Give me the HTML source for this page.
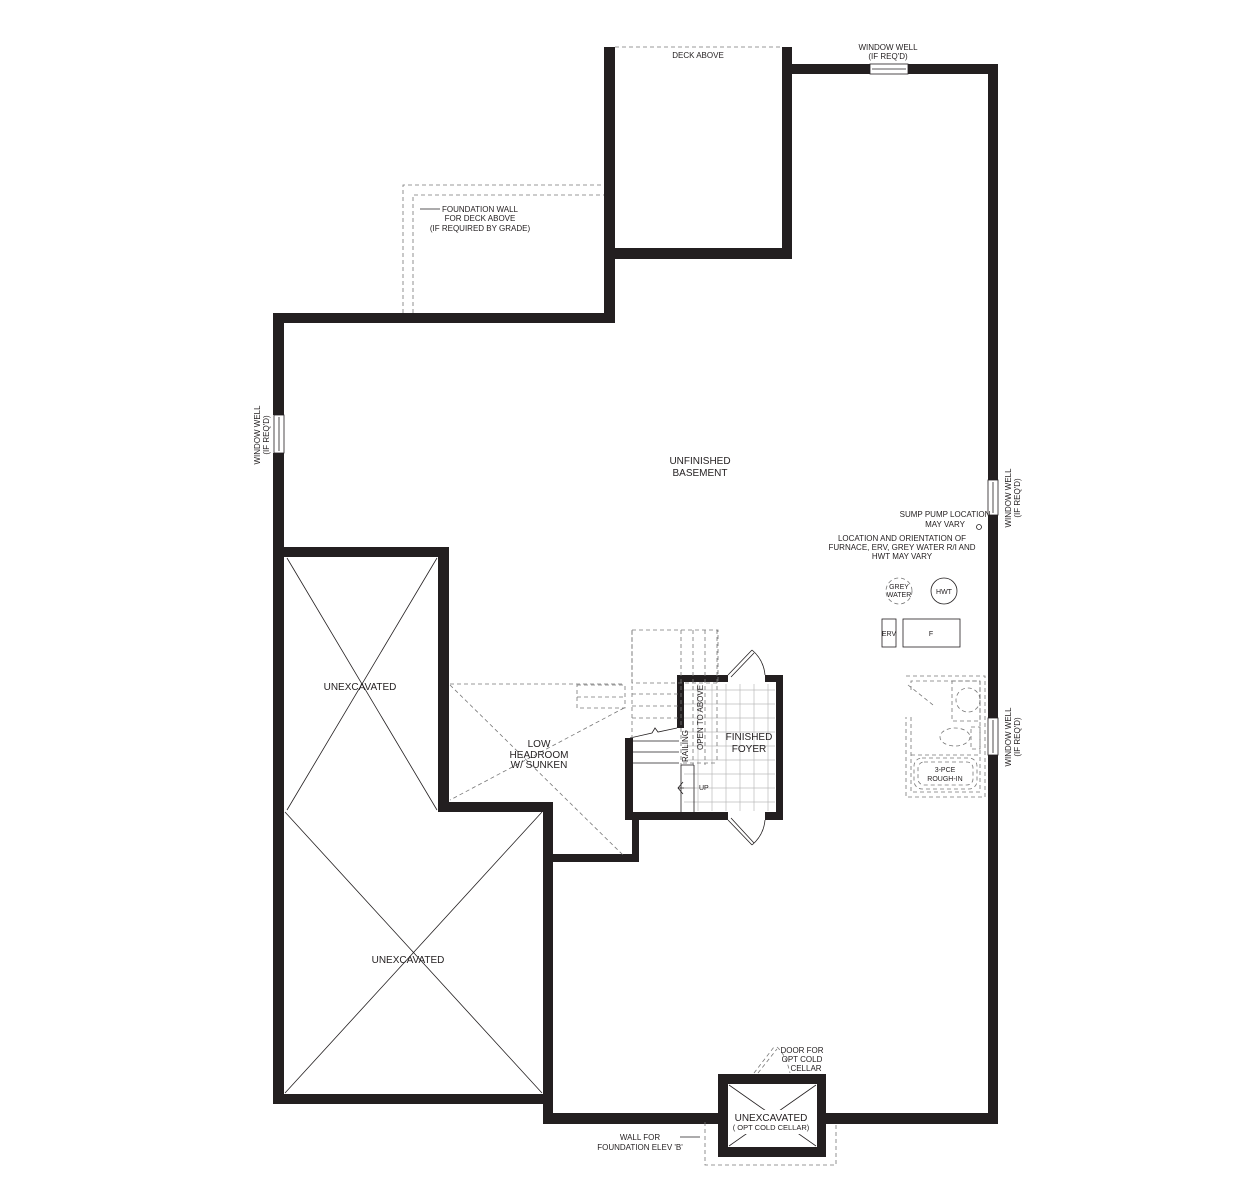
<!DOCTYPE html>
<html><head><meta charset="utf-8"><style>
html,body{margin:0;padding:0;background:#fff;}
svg{display:block;}
text{font-family:"Liberation Sans",sans-serif;fill:#231f20;}
</style></head><body>
<svg width="1250" height="1200" viewBox="0 0 1250 1200" xmlns="http://www.w3.org/2000/svg">
<g fill="#231f20">
<rect x="604" y="47" width="11" height="276"/>
<rect x="782" y="47" width="10" height="212"/>
<rect x="604" y="248" width="188" height="11"/>
<rect x="782" y="64" width="88" height="10"/>
<rect x="908" y="64" width="90" height="10"/>
<rect x="988" y="64" width="10" height="416"/>
<rect x="988" y="515" width="10" height="203"/>
<rect x="988" y="755" width="10" height="369"/>
<rect x="273" y="313" width="342" height="10"/>
<rect x="273" y="313" width="11" height="102"/>
<rect x="273" y="453" width="11" height="651"/>
<rect x="273" y="1094" width="280" height="10"/>
<rect x="543" y="1094" width="10" height="30"/>
<rect x="543" y="1113" width="175" height="11"/>
<rect x="826" y="1113" width="172" height="11"/>
<rect x="718" y="1074" width="108" height="10"/>
<rect x="718" y="1147" width="108" height="10"/>
<rect x="718" y="1074" width="10" height="83"/>
<rect x="817" y="1074" width="9" height="83"/>
<rect x="273" y="547" width="176" height="10"/>
<rect x="438" y="547" width="11" height="265"/>
<rect x="438" y="802" width="115" height="10"/>
<rect x="543" y="802" width="10" height="302"/>
<rect x="543" y="854" width="96" height="8"/>
<rect x="625" y="738" width="8" height="82"/>
<rect x="632" y="812" width="7" height="50"/>
<rect x="632" y="812" width="96" height="8"/>
<rect x="765" y="812" width="18" height="8"/>
<rect x="677" y="675" width="7" height="53"/>
<rect x="677" y="675" width="51" height="7"/>
<rect x="765" y="675" width="18" height="7"/>
<rect x="776" y="675" width="7" height="145"/>
</g>
<g fill="none" stroke="#231f20" stroke-width="0.8">
<rect x="870" y="64" width="38" height="10"/><line x1="872" y1="69" x2="906" y2="69"/>
<rect x="274" y="415" width="10" height="38"/><line x1="279" y1="417" x2="279" y2="451"/>
<rect x="988" y="480" width="10" height="35"/><line x1="993" y1="482" x2="993" y2="513"/>
<rect x="988" y="718" width="10" height="37"/><line x1="993" y1="720" x2="993" y2="753"/>
<line x1="287" y1="558" x2="437" y2="810"/><line x1="437" y1="558" x2="287" y2="810"/>
<line x1="285" y1="812" x2="542" y2="1093"/><line x1="542" y1="812" x2="285" y2="1093"/>
<line x1="729" y1="1085" x2="816" y2="1146"/><line x1="816" y1="1085" x2="729" y2="1146"/>
<line x1="420" y1="209" x2="440" y2="209"/>
<line x1="680" y1="1137" x2="700" y2="1137"/>
<line x1="678" y1="788" x2="693" y2="788"/>
<path d="M683 782 L678 788 L683 794"/>
<g stroke="#bbb" stroke-width="0.7">
<line x1="698" y1="684" x2="698" y2="811"/><line x1="712" y1="684" x2="712" y2="811"/><line x1="726" y1="684" x2="726" y2="811"/><line x1="740" y1="684" x2="740" y2="811"/><line x1="754" y1="684" x2="754" y2="811"/><line x1="768" y1="684" x2="768" y2="811"/>
<line x1="684" y1="690" x2="775" y2="690"/><line x1="684" y1="704" x2="775" y2="704"/><line x1="684" y1="718" x2="775" y2="718"/><line x1="684" y1="732" x2="775" y2="732"/><line x1="684" y1="746" x2="775" y2="746"/><line x1="684" y1="760" x2="775" y2="760"/><line x1="684" y1="774" x2="775" y2="774"/><line x1="684" y1="788" x2="775" y2="788"/><line x1="684" y1="802" x2="775" y2="802"/>
</g>
<line x1="632" y1="741" x2="679" y2="741"/><line x1="632" y1="752" x2="679" y2="752"/><line x1="632" y1="763" x2="679" y2="763"/>
<line x1="681" y1="765" x2="681" y2="812"/><line x1="694" y1="765" x2="694" y2="812"/><line x1="681" y1="765" x2="694" y2="765"/>
<path d="M630 738 L652 733 L655 728 L658 732 L677 728"/>
<line x1="728" y1="675" x2="752" y2="650"/><line x1="731" y1="677" x2="754" y2="653"/><path d="M752 650 A37 37 0 0 1 765 675"/>
<line x1="728" y1="820" x2="752" y2="845"/><line x1="731" y1="818" x2="754" y2="843"/><path d="M752 845 A37 37 0 0 0 765 820"/>
<circle cx="944" cy="591" r="13"/>
<rect x="882" y="619" width="14" height="28"/>
<rect x="903" y="619" width="57" height="28"/>
<circle cx="979" cy="527" r="2.5"/>
</g>
<g fill="none" stroke="#777" stroke-width="0.8" stroke-dasharray="4,3">
<path d="M403 313 V185 H604"/><path d="M413 313 V195 H604"/>
<line x1="615" y1="47" x2="782" y2="47"/>
<line x1="450" y1="684" x2="625" y2="684"/>
<rect x="577" y="685" width="48" height="23"/>
<line x1="577" y1="697" x2="625" y2="697"/>
<line x1="450" y1="685" x2="624" y2="856"/>
<line x1="624" y1="708" x2="450" y2="800"/>
<rect x="632" y="630" width="86" height="53"/>
<line x1="681" y1="630" x2="681" y2="765"/><line x1="693" y1="630" x2="693" y2="765"/><line x1="705" y1="630" x2="705" y2="765"/><line x1="717" y1="630" x2="717" y2="763"/>
<line x1="632" y1="630" x2="632" y2="738"/>
<line x1="632" y1="694" x2="678" y2="694"/><line x1="632" y1="706" x2="678" y2="706"/><line x1="632" y1="718" x2="678" y2="718"/>
<line x1="683" y1="763" x2="717" y2="763"/>
<circle cx="899" cy="591" r="13"/>
<path d="M906 676 H985 V797 H906 V717"/>
<path d="M911 717 V792 H980 V681 H911 V690"/>
<rect x="952" y="681" width="28" height="40"/>
<circle cx="968" cy="700" r="12"/>
<ellipse cx="955" cy="737" rx="15" ry="9"/>
<rect x="971" y="727" width="9" height="22"/>
<line x1="911" y1="755" x2="980" y2="755"/>
<rect x="914" y="758" width="63" height="31" rx="8"/>
<rect x="918" y="762" width="55" height="23" rx="6"/>
<line x1="908" y1="685" x2="933" y2="705"/>
<path d="M705 1122 V1165 H836 V1122"/>
<line x1="754" y1="1073" x2="774" y2="1047"/><line x1="758" y1="1073" x2="777" y2="1049"/>
<path d="M777 1047 Q786 1055 790 1073"/>
</g>
<rect x="733" y="1110" width="78" height="24" fill="#fff"/>
<g font-size="8" text-anchor="middle">
<text x="698" y="58">DECK ABOVE</text>
<text x="888" y="50">WINDOW WELL</text><text x="888" y="59">(IF REQ'D)</text>
<text x="480" y="212">FOUNDATION WALL</text><text x="480" y="221">FOR DECK ABOVE</text><text x="480" y="231">(IF REQUIRED BY GRADE)</text>
<text transform="translate(260,435) rotate(-90)">WINDOW WELL</text><text transform="translate(269,435) rotate(-90)">(IF REQ'D)</text>
<text transform="translate(1011,498) rotate(-90)">WINDOW WELL</text><text transform="translate(1020,498) rotate(-90)">(IF REQ'D)</text>
<text transform="translate(1011,737) rotate(-90)">WINDOW WELL</text><text transform="translate(1020,737) rotate(-90)">(IF REQ'D)</text>
<text x="945" y="517">SUMP PUMP LOCATION</text><text x="945" y="527">MAY VARY</text>
<text x="902" y="541">LOCATION AND ORIENTATION OF</text><text x="902" y="550">FURNACE, ERV, GREY WATER R/I AND</text><text x="902" y="559">HWT MAY VARY</text>
<text x="899" y="589" font-size="7">GREY</text><text x="899" y="597" font-size="7">WATER</text>
<text x="944" y="594" font-size="7">HWT</text>
<text x="889" y="636" font-size="7">ERV</text>
<text x="931" y="636" font-size="7">F</text>
<text x="945" y="772" font-size="7">3-PCE</text><text x="945" y="781" font-size="7">ROUGH-IN</text>
<text x="802" y="1053">DOOR FOR</text><text x="802" y="1062">OPT COLD</text><text x="806" y="1071">CELLAR</text>
<text x="640" y="1140">WALL FOR</text><text x="640" y="1150">FOUNDATION ELEV 'B'</text>
<text x="771" y="1130" font-size="7.5">( OPT COLD CELLAR)</text>
<text x="699" y="790" font-size="7" text-anchor="start">UP</text>
<text transform="translate(688,762) rotate(-90)" font-size="8" text-anchor="start">RAILING</text>
<text transform="translate(703,750) rotate(-90)" font-size="8" text-anchor="start">OPEN TO ABOVE</text>
</g>
<g font-size="10" text-anchor="middle">
<text x="700" y="464">UNFINISHED</text><text x="700" y="476">BASEMENT</text>
<text x="360" y="690">UNEXCAVATED</text>
<text x="408" y="963">UNEXCAVATED</text>
<text x="539" y="747">LOW</text><text x="539" y="758">HEADROOM</text><text x="539" y="768">W/ SUNKEN</text>
<text x="749" y="740">FINISHED</text><text x="749" y="752">FOYER</text>
<text x="771" y="1121">UNEXCAVATED</text>
</g>
</svg>
</body></html>
